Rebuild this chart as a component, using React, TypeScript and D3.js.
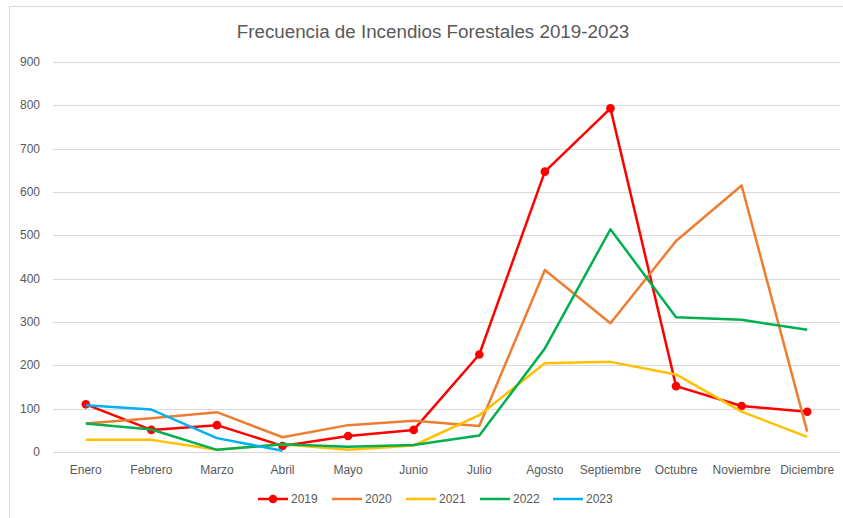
import React from "react";
import * as d3 from "d3";

const months = ["Enero", "Febrero", "Marzo", "Abril", "Mayo", "Junio", "Julio", "Agosto", "Septiembre", "Octubre", "Noviembre", "Diciembre"];
const yTicks = [0, 100, 200, 300, 400, 500, 600, 700, 800, 900];
const s2019 = [110, 51, 62, 14, 37, 51, 225, 647, 793, 152, 106, 93];
const s2020 = [66, 78, 92, 34, 62, 72, 60, 420, 297, 487, 615, 47];
const s2021 = [28, 28, 5, 18, 5, 15, 85, 205, 208, 179, 93, 35];
const s2022 = [66, 52, 5, 18, 12, 16, 38, 239, 514, 311, 305, 282];
const s2023 = [108, 98, 32, 3];
const seriesNames = ["2019", "2020", "2021", "2022", "2023"];
const seriesColors = ["#FF0000", "#ED7D31", "#FFC000", "#00B050", "#00B0F0"];
const seriesData = [s2019, s2020, s2021, s2022, s2023];
const seriesMarkers = [true, false, false, false, false];

const W = 843, H = 518;
const FONT = "'Liberation Sans', Arial, sans-serif";
const TXT = "#595959";

export default function App() {
  const x = d3.scaleBand<string>().domain(months).range([53, 840]);
  const y = d3.scaleLinear().domain([0, 900]).range([452, 62]);
  const cx = (m: string) => (x(m) as number) + x.bandwidth() / 2;
  const line = d3.line<[string, number]>().x((d) => cx(d[0])).y((d) => y(d[1]));

  const legendX = [258, 332, 406, 480, 553];

  return (
    <svg width={W} height={H} style={{ position: "absolute", left: 0, top: 0, background: "#fff" }}>
      <rect x={9.5} y={6.5} width={W + 10} height={H + 10} fill="#fff" stroke="#d9d9d9" strokeWidth={1} />
      <text x={433} y={38} textAnchor="middle" fontFamily={FONT} fontSize={18.8} fill={TXT}>
        Frecuencia de Incendios Forestales 2019-2023
      </text>
      {yTicks.map((t) => (
        <g key={t}>
          <line x1={53} x2={840} y1={Math.round(y(t)) + 0.5} y2={Math.round(y(t)) + 0.5} stroke="#d9d9d9" strokeWidth={1} />
          <text x={40} y={y(t) + 4} textAnchor="end" fontFamily={FONT} fontSize={12} fill={TXT}>{t}</text>
        </g>
      ))}
      {months.map((m) => (
        <text key={m} x={cx(m)} y={474} textAnchor="middle" fontFamily={FONT} fontSize={12} fill={TXT}>{m}</text>
      ))}
      {seriesData.map((s, i) => {
        const pts: [string, number][] = s.map((v, j) => [months[j], v]);
        return (
          <g key={i}>
            <path d={line(pts) || ""} fill="none" stroke={seriesColors[i]} strokeWidth={2.5} strokeLinejoin="round" />
            {seriesMarkers[i] && pts.map((p, j) => (
              <circle key={j} cx={cx(p[0])} cy={y(p[1])} r={4.3} fill={seriesColors[i]} />
            ))}
          </g>
        );
      })}
      {seriesNames.map((n, i) => (
        <g key={n}>
          <line x1={legendX[i]} x2={legendX[i] + 30} y1={499} y2={499} stroke={seriesColors[i]} strokeWidth={2.5} />
          {seriesMarkers[i] && <circle cx={legendX[i] + 15} cy={499} r={4.3} fill={seriesColors[i]} />}
          <text x={legendX[i] + 33} y={503} fontFamily={FONT} fontSize={12} fill={TXT}>{n}</text>
        </g>
      ))}
    </svg>
  );
}
